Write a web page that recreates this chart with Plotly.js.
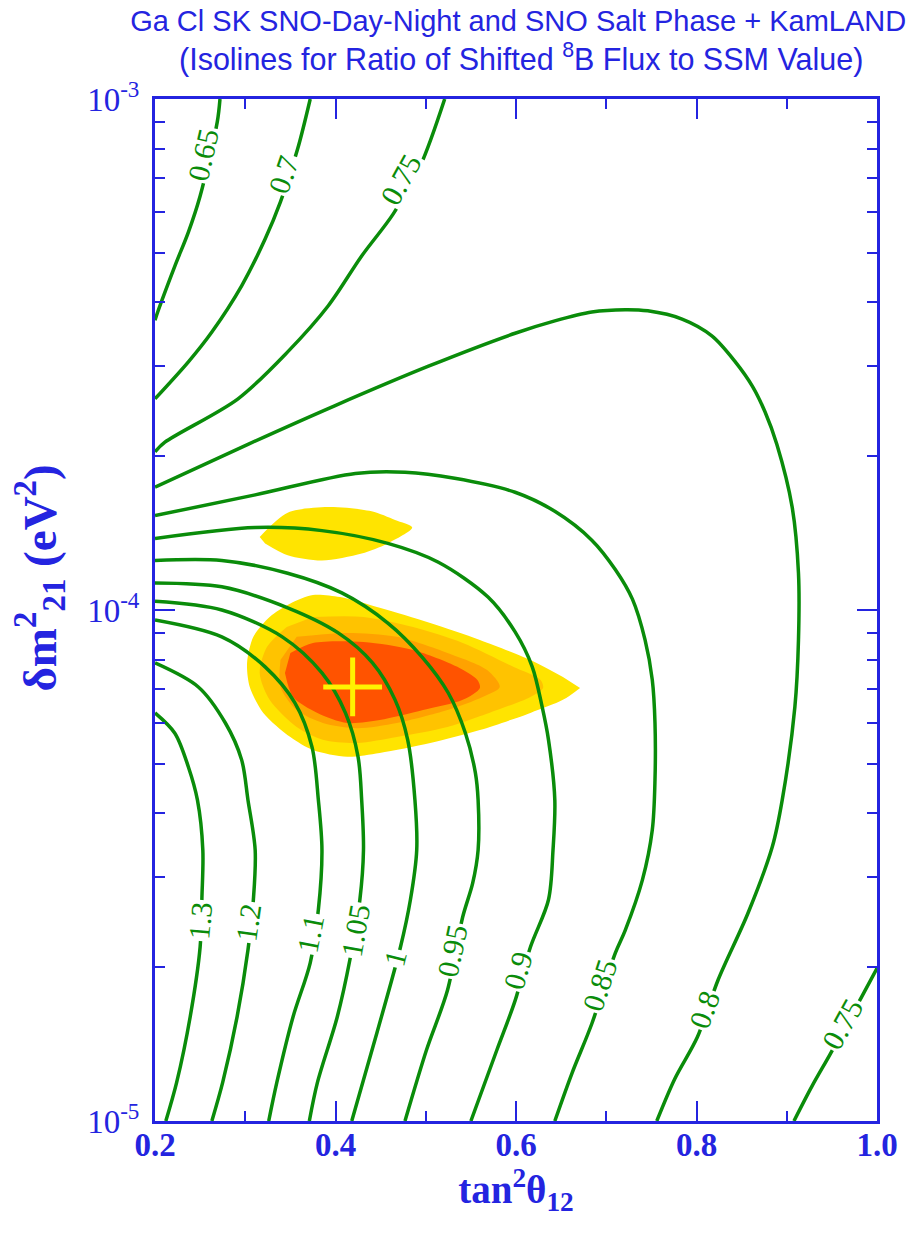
<!DOCTYPE html>
<html><head><meta charset="utf-8">
<script src="https://cdn.plot.ly/plotly-3.0.1.min.js"></script>
<style>html,body{margin:0;padding:0;background:#fff}#chart{width:907px;height:1235px}</style>
</head><body><div id="chart"></div>
<script>
// ---- isolines: x = tan^2(theta12), y = delta m^2_21 (eV^2) ----
const iso065_x = [0.272,0.269,0.250,0.237,0.222,0.203,0.200];
const iso065_y = [1.00e-3,9.02e-4,6.46e-4,5.49e-4,4.71e-4,3.83e-4,3.69e-4];
const iso070_x = [0.372,0.358,0.339,0.322,0.296,0.263,0.237,0.200];
const iso070_y = [1.00e-3,7.98e-4,6.29e-4,5.32e-4,4.31e-4,3.50e-4,3.06e-4,2.59e-4];
const iso075a_x = [0.521,0.494,0.464,0.429,0.392,0.347,0.292,0.211,0.200];
const iso075a_y = [1.00e-3,7.40e-4,5.96e-4,4.93e-4,3.94e-4,3.20e-4,2.59e-4,2.13e-4,2.04e-4];
const iso080_x = [0.200,0.303,0.399,0.503,0.599,0.643,0.684,0.721,0.746,0.784,0.817,0.843,0.862,0.876,0.889,0.906,0.913,0.913,0.909,0.895,0.884,0.857,0.824,0.801,0.776,0.756];
const iso080_y = [1.74e-4,2.11e-4,2.51e-4,3.00e-4,3.48e-4,3.68e-4,3.83e-4,3.87e-4,3.85e-4,3.71e-4,3.44e-4,3.06e-4,2.74e-4,2.44e-4,2.11e-4,1.59e-4,1.18e-4,8.74e-5,6.46e-5,4.25e-5,3.44e-5,2.55e-5,1.89e-5,1.46e-5,1.21e-5,1.00e-5];
const iso085_x = [0.200,0.311,0.422,0.477,0.532,0.599,0.643,0.684,0.710,0.729,0.743,0.751,0.754,0.754,0.751,0.740,0.721,0.710,0.684,0.662,0.643];
const iso085_y = [1.53e-4,1.68e-4,1.85e-4,1.86e-4,1.81e-4,1.70e-4,1.56e-4,1.37e-4,1.20e-4,1.05e-4,8.74e-5,7.30e-5,6.01e-5,4.65e-5,3.71e-5,2.96e-5,2.36e-5,2.13e-5,1.55e-5,1.24e-5,1.00e-5];
const iso090_x = [0.200,0.311,0.385,0.458,0.514,0.569,0.599,0.618,0.629,0.636,0.643,0.641,0.636,0.616,0.599,0.579,0.550];
const iso090_y = [1.38e-4,1.45e-4,1.43e-4,1.35e-4,1.24e-4,1.06e-4,9.06e-5,7.74e-5,6.46e-5,5.57e-5,4.25e-5,3.39e-5,2.71e-5,2.19e-5,1.72e-5,1.38e-5,1.00e-5];
const iso095_x = [0.200,0.274,0.347,0.407,0.458,0.496,0.525,0.544,0.555,0.558,0.558,0.552,0.541,0.524,0.501,0.477];
const iso095_y = [1.25e-4,1.25e-4,1.18e-4,1.08e-4,9.43e-5,8.09e-5,6.88e-5,5.74e-5,4.80e-5,4.25e-5,3.39e-5,2.92e-5,2.51e-5,1.80e-5,1.38e-5,1.00e-5];
const iso100_x = [0.200,0.274,0.347,0.403,0.441,0.466,0.480,0.488,0.490,0.483,0.472,0.446,0.418];
const iso100_y = [1.13e-4,1.11e-4,1.01e-4,9.02e-5,7.88e-5,6.67e-5,5.57e-5,4.25e-5,3.39e-5,2.71e-5,2.19e-5,1.49e-5,1.00e-5];
const iso105_x = [0.200,0.274,0.341,0.385,0.411,0.425,0.429,0.431,0.427,0.416,0.402,0.380,0.371];
const iso105_y = [1.04e-4,1.00e-4,8.86e-5,7.53e-5,6.29e-5,5.16e-5,4.25e-5,3.39e-5,2.71e-5,2.07e-5,1.60e-5,1.19e-5,1.00e-5];
const iso110_x = [0.200,0.274,0.322,0.355,0.374,0.381,0.385,0.381,0.372,0.353,0.335,0.326];
const iso110_y = [9.56e-5,8.86e-5,7.74e-5,6.58e-5,5.39e-5,4.25e-5,3.39e-5,2.59e-5,2.04e-5,1.60e-5,1.19e-5,1.00e-5];
const iso120_x = [0.200,0.248,0.278,0.296,0.303,0.311,0.309,0.303,0.291,0.275,0.263];
const iso120_y = [7.88e-5,7.07e-5,6.01e-5,5.09e-5,4.25e-5,3.39e-5,2.71e-5,2.16e-5,1.60e-5,1.19e-5,1.00e-5];
const iso130_x = [0.200,0.222,0.237,0.247,0.253,0.252,0.250,0.239,0.224,0.212];
const iso130_y = [6.29e-5,5.74e-5,4.93e-5,4.25e-5,3.39e-5,2.74e-5,2.19e-5,1.60e-5,1.19e-5,1.00e-5];
const iso075b_x = [1.000,0.983,0.948,0.928,0.908];
const iso075b_y = [1.99e-5,1.75e-5,1.35e-5,1.17e-5,1.00e-5];

// ---- allowed regions (outer to inner) ----
const island_x = [0.316,0.347,0.392,0.440,0.466,0.485,0.458,0.429,0.385,0.347,0.322];
const island_y = [1.39e-4,1.55e-4,1.59e-4,1.56e-4,1.50e-4,1.45e-4,1.35e-4,1.29e-4,1.25e-4,1.28e-4,1.35e-4];
const regOuter_x = [0.671,0.652,0.616,0.560,0.505,0.449,0.413,0.375,0.350,0.320,0.305,0.302,0.309,0.327,0.350,0.375,0.405,0.449,0.505,0.560,0.616,0.652];
const regOuter_y = [7.04e-5,6.67e-5,6.29e-5,5.82e-5,5.49e-5,5.25e-5,5.16e-5,5.32e-5,5.64e-5,6.29e-5,7.07e-5,7.88e-5,8.86e-5,9.69e-5,1.03e-4,1.07e-4,1.06e-4,1.01e-4,9.43e-5,8.74e-5,7.98e-5,7.39e-5];
const reg2_x = [0.375,0.431,0.486,0.541,0.597,0.627,0.630,0.616,0.579,0.524,0.468,0.424,0.386,0.357,0.327,0.316,0.324,0.346];
const reg2_y = [9.69e-5,9.69e-5,9.26e-5,8.62e-5,7.74e-5,7.30e-5,7.04e-5,6.76e-5,6.37e-5,5.90e-5,5.64e-5,5.49e-5,5.57e-5,5.90e-5,6.67e-5,7.53e-5,8.46e-5,9.26e-5];
const reg3_x = [0.357,0.413,0.468,0.524,0.568,0.582,0.563,0.524,0.468,0.424,0.386,0.357,0.339,0.339];
const reg3_y = [8.86e-5,9.02e-5,8.86e-5,8.24e-5,7.63e-5,7.07e-5,6.76e-5,6.37e-5,6.01e-5,5.87e-5,6.01e-5,6.37e-5,7.07e-5,7.98e-5];
const regInner_x = [0.350,0.375,0.431,0.486,0.535,0.557,0.560,0.541,0.497,0.449,0.413,0.380,0.353,0.344];
const regInner_y = [8.24e-5,8.62e-5,8.66e-5,8.35e-5,7.74e-5,7.30e-5,7.04e-5,6.67e-5,6.37e-5,6.09e-5,6.01e-5,6.29e-5,6.76e-5,7.53e-5];

// best fit point
const best_x = [0.419];
const best_y = [7.07e-5];

// isoline labels
const labelText = ['0.65','0.7','0.75','1.3','1.2','1.1','1.05','1','0.95','0.9','0.85','0.8','0.75'];
const labelX = [0.253,0.342,0.472,0.250,0.303,0.372,0.422,0.466,0.529,0.602,0.693,0.809,0.962];
const labelY = [7.80e-4,7.13e-4,6.97e-4,2.47e-5,2.45e-5,2.33e-5,2.36e-5,2.08e-5,2.16e-5,1.97e-5,1.85e-5,1.65e-5,1.55e-5];
const labelAngle = [-77,-71,-61,-85,-82,-79,-80,-76,-78,-74,-72,-70,-61];

// axis ticks
const xTickVals = [0.2,0.4,0.6,0.8,1.0];
const xTickText = ['0.2','0.4','0.6','0.8','1.0'];
const xMinorVals = [0.3,0.5,0.7,0.9];
const yTickVals = [1e-5,1e-4,1e-3];
const yTickText = ['10<sup>-5</sup>','10<sup>-4</sup>','10<sup>-3</sup>'];
const yMinorVals = [2e-5,3e-5,4e-5,5e-5,6e-5,7e-5,8e-5,9e-5,2e-4,3e-4,4e-4,5e-4,6e-4,7e-4,8e-4,9e-4];

const titleLine1 = 'Ga Cl SK SNO-Day-Night and SNO Salt Phase + KamLAND';
const titleLine2 = '(Isolines for Ratio of Shifted <sup>8</sup>B Flux to SSM Value)';

const BLUE = '#2424E0';
const GREEN = '#0A8C0A';
const SERIF = '"Liberation Serif", "Times New Roman", serif';
const SANS = '"Liberation Sans", Arial, sans-serif';

const traces = [];
function region(x, y, color) {
  traces.push({x: x, y: y, type: 'scatter', mode: 'lines', fill: 'toself', fillcolor: color,
    line: {color: color, width: 0, shape: 'spline', smoothing: 0.8}, hoverinfo: 'skip', showlegend: false});
}
region(island_x, island_y, '#FFE400');
region(regOuter_x, regOuter_y, '#FFE400');
region(reg2_x, reg2_y, '#FFC300');
region(reg3_x, reg3_y, '#FFA200');
region(regInner_x, regInner_y, '#FF5300');

const isolines = [[iso065_x,iso065_y],[iso070_x,iso070_y],[iso075a_x,iso075a_y],[iso080_x,iso080_y],
  [iso085_x,iso085_y],[iso090_x,iso090_y],[iso095_x,iso095_y],[iso100_x,iso100_y],[iso105_x,iso105_y],
  [iso110_x,iso110_y],[iso120_x,iso120_y],[iso130_x,iso130_y],[iso075b_x,iso075b_y]];
isolines.forEach(function(c){
  traces.push({x: c[0], y: c[1], type: 'scatter', mode: 'lines',
    line: {color: GREEN, width: 3.5, shape: 'spline', smoothing: 0.9}, hoverinfo: 'skip', showlegend: false});
});
traces.push({x: best_x, y: best_y, type: 'scatter', mode: 'markers',
  marker: {symbol: 'cross-thin', size: 42, color: '#FFF200', line: {color: '#FFF200', width: 5}}, showlegend: false});

const annotations = labelText.map(function(t, i){
  return {x: labelX[i], y: Math.log10(labelY[i]), xref: 'x', yref: 'y', text: t, showarrow: false,
    textangle: labelAngle[i], bgcolor: '#FFFFFF', borderpad: 1,
    font: {family: SERIF, size: 30, color: GREEN}};
});
annotations.push({x: -0.159, y: 0.531, xref: 'paper', yref: 'paper', showarrow: false, textangle: -90,
  xanchor: 'center', yanchor: 'middle',
  text: 'δm<sup>2</sup><sub>21</sub> (eV<sup>2</sup>)', font: {family: SERIF, size: 47, color: BLUE, weight: 'bold'}});
annotations.push({x: 0.507, y: 1.041, xref: 'paper', yref: 'paper', showarrow: false,
  xanchor: 'center', yanchor: 'middle', text: titleLine2, font: {family: SANS, size: 30.5, color: BLUE}});

const layout = {
  width: 907, height: 1235,
  margin: {l: 155, r: 30, t: 99, b: 114},
  paper_bgcolor: '#FFFFFF', plot_bgcolor: '#FFFFFF',
  showlegend: false,
  title: {text: titleLine1,
    font: {family: SANS, size: 29, color: BLUE},
    x: 0.503, xref: 'paper', xanchor: 'center', y: 0.983, yref: 'container', yanchor: 'middle'},
  xaxis: {range: [0.2, 1.0], tickmode: 'array', tickvals: xTickVals, ticktext: xTickText,
    ticks: 'inside', ticklen: 20, tickwidth: 2, tickcolor: BLUE,
    minor: {tickmode: 'array', tickvals: xMinorVals, ticks: 'inside', ticklen: 10, tickwidth: 2, tickcolor: BLUE, showgrid: false},
    showline: true, linewidth: 3, linecolor: BLUE, mirror: 'ticks', showgrid: false, zeroline: false,
    tickfont: {family: SERIF, size: 33, color: BLUE, weight: 'bold'}, ticklabelstandoff: -8,
    title: {text: 'tan<sup>2</sup>θ<sub>12</sub>', font: {family: SERIF, size: 39, color: BLUE, weight: 'bold'}, standoff: 14}},
  yaxis: {type: 'log', range: [-5, -3], tickmode: 'array', tickvals: yTickVals, ticktext: yTickText,
    ticks: 'inside', ticklen: 20, tickwidth: 2, tickcolor: BLUE,
    minor: {tickmode: 'array', tickvals: yMinorVals, ticks: 'inside', ticklen: 10, tickwidth: 2, tickcolor: BLUE, showgrid: false},
    showline: true, linewidth: 3, linecolor: BLUE, mirror: 'ticks', showgrid: false, zeroline: false,
    tickfont: {family: SERIF, size: 33, color: BLUE}, ticklabelstandoff: 6},
  annotations: annotations
};
Plotly.newPlot('chart', traces, layout, {displayModeBar: false, staticPlot: true});
</script></body></html>
